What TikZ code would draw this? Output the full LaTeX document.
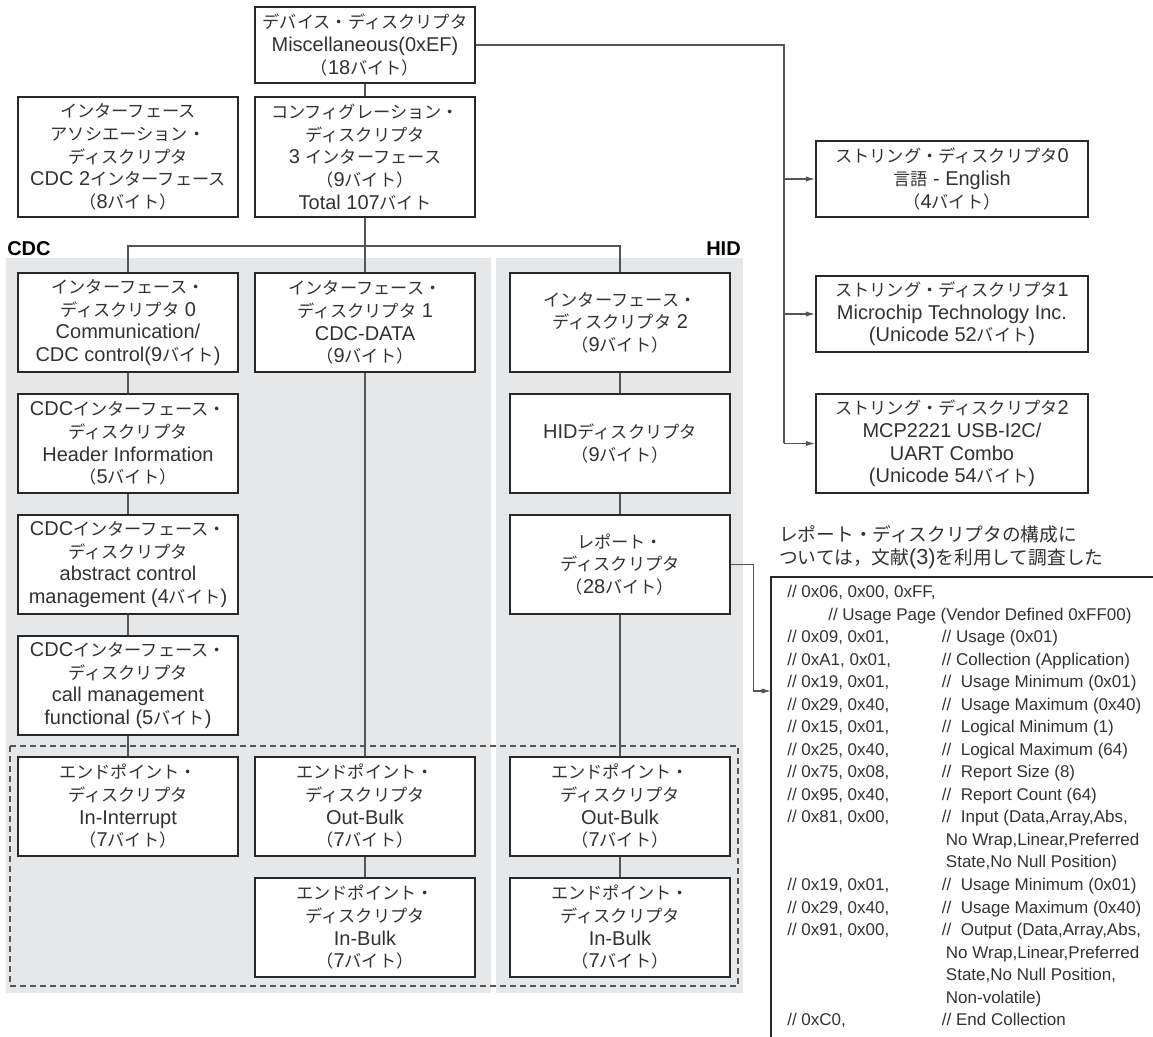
\documentclass[tikz,border=0pt]{standalone}
\usepackage{fontspec}
\usepackage{tikz}
\usetikzlibrary{arrows.meta,positioning}
\setmainfont{Liberation Sans}
\newfontfamily\latfam{Liberation Sans}
\newfontfamily\jpfam[Scale=0.86]{Noto Sans CJK JP}
% kana/kanji runs are set in the Japanese font
\XeTeXinterchartokenstate=1
\newXeTeXintercharclass\jpclass
\newcount\jpc
\jpc="3000 \loop\XeTeXcharclass\jpc=\jpclass \ifnum\jpc<"30FF \advance\jpc by 1 \repeat
\jpc="FF00 \loop\XeTeXcharclass\jpc=\jpclass \ifnum\jpc<"FF60 \advance\jpc by 1 \repeat
\XeTeXcharclass`言=\jpclass \XeTeXcharclass`語=\jpclass
\XeTeXcharclass`構=\jpclass \XeTeXcharclass`成=\jpclass
\XeTeXcharclass`文=\jpclass \XeTeXcharclass`献=\jpclass
\XeTeXcharclass`利=\jpclass \XeTeXcharclass`用=\jpclass
\XeTeXcharclass`調=\jpclass \XeTeXcharclass`査=\jpclass
\XeTeXinterchartoks 0 \jpclass = {\jpfam}
\XeTeXinterchartoks 4095 \jpclass = {\jpfam}
\XeTeXinterchartoks \jpclass 0 = {\latfam}
\XeTeXinterchartoks \jpclass 4095 = {\latfam}
\definecolor{boxline}{RGB}{40,40,40}
\definecolor{linegray}{RGB}{85,85,85}
\definecolor{groupgray}{RGB}{230,231,233}
\definecolor{textgray}{RGB}{50,50,50}
\newcommand{\boxfont}{\fontsize{15}{17}\selectfont}
\newcommand{\hidrow}[2]{\makebox[116pt][l]{#1}#2}

\begin{document}
\begin{tikzpicture}[x=0.75pt, y=-0.75pt, node distance=90.75pt]
\tikzstyle{desc} = [rectangle, draw=boxline, line width=1.3pt, fill=white, minimum width=165pt, minimum height=74.25pt, align=center, text=textgray, font=\boxfont, inner sep=1pt]
\tikzstyle{strbox} = [desc, minimum width=204pt]
\tikzstyle{grouplabel} = [inner sep=0pt, text=black, font=\fontsize{15}{17}\selectfont\bfseries]
\tikzstyle{link} = [draw=linegray, line width=0.8pt]
\tikzstyle{arrow} = [link, ->, >={Latex[length=7pt,width=4pt]}]
\tikzstyle{dashgroup} = [draw=linegray, line width=0.8pt, dash pattern=on 4.5pt off 3pt]

\useasboundingbox (0,0) rectangle (1153,1037);

% CDC / HID groups
\fill [groupgray] (6,258) rectangle (491,993);
\fill [groupgray] (496,258) rectangle (743,993);
\draw [dashgroup] (10,746) rectangle (738,986);
\node (cdclabel) [grouplabel, anchor=west] at (7,249) {CDC};
\node (hidlabel) [grouplabel, anchor=east] at (741,249) {HID};

\node (dev) [desc, minimum height=57pt] at (365,45) {デバイス・ディスクリプタ\\Miscellaneous(0xEF)\\（18バイト）};
\node (iad) [desc, minimum height=90pt] at (128,157) {インターフェース\\アソシエーション・\\ディスクリプタ\\CDC 2インターフェース\\（8バイト）};
\node (conf) [desc, minimum height=90pt] at (365,157) {コンフィグレーション・\\ディスクリプタ\\3 インターフェース\\（9バイト）\\Total 107バイト};

% CDC column 0
\node (if0) [desc] at (128,322.5) {インターフェース・\\ディスクリプタ 0\\Communication/\\CDC control(9バイト)};
\node (hdr) [desc, below of=if0] {CDCインターフェース・\\ディスクリプタ\\Header Information\\（5バイト）};
\node (acm) [desc, below of=hdr] {CDCインターフェース・\\ディスクリプタ\\abstract control\\management (4バイト)};
\node (call) [desc, below of=acm] {CDCインターフェース・\\ディスクリプタ\\call management\\functional (5バイト)};
\node (epint) [desc, below of=call] {エンドポイント・\\ディスクリプタ\\In-Interrupt\\（7バイト）};

% CDC column 1
\node (if1) [desc] at (365,322.5) {インターフェース・\\ディスクリプタ 1\\CDC-DATA\\（9バイト）};
\node (ep1out) [desc] at (365,806.5) {エンドポイント・\\ディスクリプタ\\Out-Bulk\\（7バイト）};
\node (ep1in) [desc, below of=ep1out] {エンドポイント・\\ディスクリプタ\\In-Bulk\\（7バイト）};

% HID column
\node (if2) [desc] at (620,322.5) {インターフェース・\\ディスクリプタ 2\\（9バイト）};
\node (hiddesc) [desc, below of=if2] {HIDディスクリプタ\\（9バイト）};
\node (report) [desc, below of=hiddesc] {レポート・\\ディスクリプタ\\（28バイト）};
\node (ep2out) [desc] at (620,806.5) {エンドポイント・\\ディスクリプタ\\Out-Bulk\\（7バイト）};
\node (ep2in) [desc, below of=ep2out] {エンドポイント・\\ディスクリプタ\\In-Bulk\\（7バイト）};

% string descriptors
\node (str0) [strbox, minimum height=57pt] at (952,179) {ストリング・ディスクリプタ0\\言語 - English\\（4バイト）};
\node (str1) [strbox, minimum height=57pt] at (952,314) {ストリング・ディスクリプタ1\\Microchip Technology Inc.\\(Unicode 52バイト)};
\node (str2) [strbox] at (952,443.5) {ストリング・ディスクリプタ2\\MCP2221 USB-I2C/\\UART Combo\\(Unicode 54バイト)};

% report descriptor listing
\node (note) [anchor=north west, align=left, inner sep=0pt, text=textgray, font=\fontsize{16.3}{17.3}\selectfont] at (779,525) {レポート・ディスクリプタの構成に\\ついては，文献(3)を利用して調査した};
\node (replist) [anchor=north west, align=left, inner sep=0pt, text=textgray, font=\fontsize{12.75}{16.9}\selectfont] at (787,585) {%
\hidrow{// 0x06, 0x00, 0xFF,}{}\\
\hspace*{30.75pt}// Usage Page (Vendor Defined 0xFF00)\\
\hidrow{// 0x09, 0x01,}{// Usage (0x01)}\\
\hidrow{// 0xA1, 0x01,}{// Collection (Application)}\\
\hidrow{// 0x19, 0x01,}{//\ \ Usage Minimum (0x01)}\\
\hidrow{// 0x29, 0x40,}{//\ \ Usage Maximum (0x40)}\\
\hidrow{// 0x15, 0x01,}{//\ \ Logical Minimum (1)}\\
\hidrow{// 0x25, 0x40,}{//\ \ Logical Maximum (64)}\\
\hidrow{// 0x75, 0x08,}{//\ \ Report Size (8)}\\
\hidrow{// 0x95, 0x40,}{//\ \ Report Count (64)}\\
\hidrow{// 0x81, 0x00,}{//\ \ Input (Data,Array,Abs,}\\
\hidrow{}{\hspace*{3pt}No Wrap,Linear,Preferred}\\
\hidrow{}{\hspace*{3pt}State,No Null Position)}\\
\hidrow{// 0x19, 0x01,}{//\ \ Usage Minimum (0x01)}\\
\hidrow{// 0x29, 0x40,}{//\ \ Usage Maximum (0x40)}\\
\hidrow{// 0x91, 0x00,}{//\ \ Output (Data,Array,Abs,}\\
\hidrow{}{\hspace*{3pt}No Wrap,Linear,Preferred}\\
\hidrow{}{\hspace*{3pt}State,No Null Position,}\\
\hidrow{}{\hspace*{3pt}Non-volatile)}\\
\hidrow{// 0xC0,}{// End Collection}};
\coordinate (listcorner) at (771,577);
\coordinate (listin) at (771,691);
\draw [boxline, line width=1.6pt] (1153,577) -- (listcorner) -- (771,1037);

% tree
\draw [link] (dev) -- (conf);
\draw [link] (conf) -- (if1);
\draw [link] (if0.north) |- (if2.north |- 0,246) -- (if2.north);
\draw [link] (if0) -- (hdr);
\draw [link] (hdr) -- (acm);
\draw [link] (acm) -- (call);
\draw [link] (call) -- (epint);
\draw [link] (if1) -- (ep1out);
\draw [link] (ep1out) -- (ep1in);
\draw [link] (if2) -- (hiddesc);
\draw [link] (hiddesc) -- (report);
\draw [link] (report) -- (ep2out);
\draw [link] (ep2out) -- (ep2in);

% strings
\coordinate (trunk) at (784,0);
\draw [link] (dev.east) -- (dev.east -| trunk) -- (trunk |- str2.west);
\draw [arrow] (trunk |- str0.west) -- (str0.west);
\draw [arrow] (trunk |- str1.west) -- (str1.west);
\draw [arrow] (trunk |- str2.west) -- (str2.west);
\draw [arrow] (report.east) -- ++(23,0) |- (listin);
\end{tikzpicture}
\end{document}
